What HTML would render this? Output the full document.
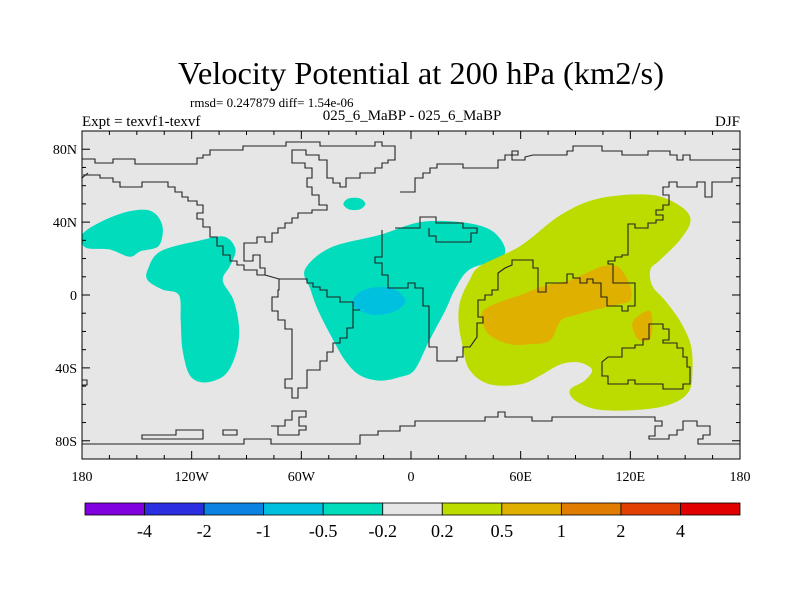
<!DOCTYPE html>
<html><head><meta charset="utf-8"><style>
body{margin:0;background:#fff;}
svg text{font-family:"Liberation Serif",serif;fill:#000;}
</style></head><body>
<svg id="chart" width="800" height="600" viewBox="0 0 800 600" xmlns="http://www.w3.org/2000/svg">
<text x="421" y="84" font-size="32" text-anchor="middle" textLength="486" lengthAdjust="spacingAndGlyphs">Velocity Potential at 200 hPa (km2/s)</text>
<text x="190" y="107" font-size="13">rmsd= 0.247879 diff= 1.54e-06</text>
<text x="82" y="126" font-size="15">Expt = texvf1-texvf</text>
<text x="412" y="120" font-size="15" text-anchor="middle">025_6_MaBP - 025_6_MaBP</text>
<text x="740" y="126" font-size="15" text-anchor="end">DJF</text>
<defs><clipPath id="clip"><rect x="82" y="131" width="658" height="328"/></clipPath></defs>
<rect x="82" y="131" width="658" height="328" fill="#e6e6e6"/>
<g id="fills" clip-path="url(#clip)"></g>
<g clip-path="url(#clip)" fill="none" stroke="#222" stroke-width="1.1">
<path d="M82,159H95V163H113V159H135V164H197V158H203V155H210V150H243V146H286V142H320V146H375V142H382V146H395V160H388V163H382V168H375V173H360V178H346V187H340V183H333V178H327V160H319V155H306V150H292V163H305V168H312V178H307V187H312V195H319V205H327V210H312V213H298V218H292V223H285V228H278V233H272V242H265V237H257V243H244V261H253V255H260V268H265V275H257V270H244V265H237V261H230V255H223V246H217V237H210V227H203V219H197V213H203V205H197V201H188V197H182V192H175V187H168V182H142V187H120V182H113V178H100V175H83"/>
<path d="M265,275L279,279H307V283H313V287H320V290H327V297H340V302H353V310H360V310H353V328H347V338H340V343H333V352H327V361H320V370H307V388H298V398H292V388H285V379H292V329H285V320H278V311H272V297H278V290H279V279"/>
<path d="M400,192H415V178H423V173H430V168H437L437,164H463V168H498V160H505V155H512V151H518V155H512V160H525V157L533,155H567V151H573V146H602V151H622V155H648V151H670V155H677V160H683V155H690V160H740"/>
<path d="M82,178L88,173"/>
<path d="M382,230V257H375V263H382V275H388V288H408V283H415V288H423V306H429V347H437V361H457V357H463V347H470L477,337V323H483V317H478V300H485V295H492V290H498V273L505,268L512,265V260H533V268H538V292H546V283H567V274H573V278H580V283H587V279H593V283H601V297H607V306H622V311H628V306H635V283H613V264H608V261H615V257H622V255H628V224H635V228H648V223H656V220H663V215H656V210H663V205H669V195H663V187H669V182H677V187H697V182H705V197H712V182H732V178H740"/>
<path d="M395,228H420V217H436V223H463V228H477V233H471V242H436V236H429V228"/>
<path d="M602,362L608,357H622V348H635V345H643V339H649V324H663V329H669V340H663V343H677V348H683V357H687V367H690V384H683V389H663V384H635V380H628V384H608V376H602Z"/>
<path d="M82,444H244V439H271V444H360V435H378V431H400V426H415V421H485V417H498V412H505V417H532V421H552V417H655V421H662V426H655V436H649V439H669V435H677V430H683V421H697V426H710V435H703V439H698V444H740"/>
<path d="M142,435V439H203V430H176V435Z"/>
<path d="M223,430H237V435H223Z"/>
<path d="M271,426H278V435H299V430H306V426H299V417H306V411H292V420H285V426Z"/>
<path d="M82,380H87V385H82"/>
</g>
<rect x="82" y="131" width="658" height="328" fill="none" stroke="#000" stroke-width="1"/>
<g id="ticks" stroke="#000" stroke-width="1"></g>
<g id="labels"></g>
<g id="colorbar"></g>
</svg>
<script>
const NS='http://www.w3.org/2000/svg';
const lonTicks=[-180,-120,-60,0,60,120,180];
const lonLabels=['180','120W','60W','0','60E','120E','180'];
const latTicks=[80,40,0,-40,-80];
const latLabels=['80N','40N','0','40S','80S'];
const levelLabels=['-4','-2','-1','-0.5','-0.2','0.2','0.5','1','2','4'];
const levelColors=['#8000e0','#2a2ee0','#0a84e0','#00c0e0','#00dcbc','#e6e6e6','#bcdc00','#e0b000','#e07c00','#e04000','#e00000'];
const blobWPac=[[-180,33],[-170,40],[-154,46],[-142,46],[-136,38],[-138,27],[-148,24],[-154,21],[-165,25],[-178,26]];
const blobEPac=[[-144,14],[-137,24],[-115,30],[-102,32],[-96,25],[-99,16],[-103,8],[-97,-3],[-94,-19],[-96,-33],[-102,-44],[-113,-48],[-121,-44],[-125,-30],[-126,-14],[-127,0],[-136,3],[-144,8]];
const blobAtl=[[-58,14],[-44,26],[-17,33],[5,40],[27,40],[43,36],[51,27],[49,20],[32,14],[24,3],[19,-8],[10,-25],[2,-41],[-6,-45],[-17,-47],[-28,-44],[-36,-36],[-44,-22],[-51,-8],[-55,3]];
const blobNAtl=[[-37,50],[-34,53],[-28,53],[-25,50],[-28,47],[-34,47]];
const blobBlue=[[-32,-3],[-25,3],[-11,4],[-3,-3],[-9,-9],[-20,-11],[-29,-8]];
const blobGreen=[[27,-3],[32,8],[38,16],[60,27],[82,44],[103,53],[131,55],[147,49],[153,41],[147,30],[136,19],[131,14],[132,5],[139,-3],[147,-14],[153,-27],[154,-41],[152,-53],[142,-60],[125,-63],[103,-63],[90,-58],[87,-52],[95,-47],[99,-41],[92,-37],[82,-38],[71,-44],[60,-49],[43,-49],[32,-41],[28,-27],[26,-14]];
const blobOrange1=[[40,-8],[51,-3],[60,0],[73,5],[87,8],[98,13],[106,16],[114,15],[120,5],[120,-3],[114,-5],[101,-8],[90,-11],[82,-14],[76,-25],[65,-27],[54,-27],[43,-22],[39,-14]];
const blobOrange2=[[125,-11],[131,-9],[132,-19],[130,-25],[124,-24],[121,-16]];
const X0=82,X1=740,Y0=131,Y1=459;
function xs(lon){return X0+(lon+180)*(X1-X0)/360;}
function ys(lat){return Y0+(90-lat)*(Y1-Y0)/180;}
function smooth(pts){
  const p=pts.map(a=>[xs(a[0]),ys(a[1])]);const n=p.length;
  let d='M'+p[0][0].toFixed(1)+','+p[0][1].toFixed(1);
  for(let i=0;i<n;i++){const a=p[(i-1+n)%n],b=p[i],c=p[(i+1)%n],e=p[(i+2)%n];
    d+='C'+(b[0]+(c[0]-a[0])/6).toFixed(1)+','+(b[1]+(c[1]-a[1])/6).toFixed(1)+' '+(c[0]-(e[0]-b[0])/6).toFixed(1)+','+(c[1]-(e[1]-b[1])/6).toFixed(1)+' '+c[0].toFixed(1)+','+c[1].toFixed(1);}
  return d+'Z';}
const fills=document.getElementById('fills');
function blob(pts,color,name){const el=document.createElementNS(NS,'path');el.setAttribute('d',smooth(pts));el.setAttribute('fill',color);


fills.appendChild(el);}
blob(blobWPac,levelColors[4],'contour-west-pacific');
blob(blobEPac,levelColors[4],'contour-east-pacific');
blob(blobAtl,levelColors[4],'contour-atlantic');
blob(blobNAtl,levelColors[4],'contour-north-atlantic');
blob(blobBlue,levelColors[3],'contour-atlantic-core');
blob(blobGreen,levelColors[6],'contour-indo-pacific');
blob(blobOrange1,levelColors[7],'contour-indian-core');
blob(blobOrange2,levelColors[7],'contour-australia-core');
const ticks=document.getElementById('ticks');
function line(x1,y1,x2,y2,nm){const l=document.createElementNS(NS,'line');l.setAttribute('x1',x1);l.setAttribute('y1',y1);l.setAttribute('x2',x2);l.setAttribute('y2',y2);


ticks.appendChild(l);}
for(let lon=-180;lon<=180;lon+=15){const x=xs(lon),L=(lon%60===0)?8:4;line(x,Y1,x,Y1-L,'x-tick');line(x,Y0,x,Y0+L,'x-tick');}
for(let lat=-90;lat<=90;lat+=10){const y=ys(lat),L=(lat%40===0)?8:4;line(X0,y,X0+L,y,'y-tick');line(X1,y,X1-L,y,'y-tick');}
const labels=document.getElementById('labels');
function txt(g,x,y,s,anchor,size,nm){const t=document.createElementNS(NS,'text');t.setAttribute('x',x);t.setAttribute('y',y);t.setAttribute('text-anchor',anchor);t.setAttribute('font-size',size);t.textContent=s;


g.appendChild(t);}
lonTicks.forEach((v,i)=>txt(labels,xs(v),481,lonLabels[i],'middle',14,'x-tick-label'));
latTicks.forEach((v,i)=>txt(labels,77,ys(v)+5,latLabels[i],'end',14,'y-tick-label'));
const cb=document.getElementById('colorbar');const CB0=85,CB1=740,n=levelColors.length,w=(CB1-CB0)/n;
levelColors.forEach((c,i)=>{const r=document.createElementNS(NS,'rect');r.setAttribute('x',CB0+i*w);r.setAttribute('y',503);r.setAttribute('width',w);r.setAttribute('height',12);r.setAttribute('fill',c);r.setAttribute('stroke','#000');r.setAttribute('stroke-width','0.8');


cb.appendChild(r);});
levelLabels.forEach((s,i)=>txt(cb,CB0+(i+1)*w,537,s,'middle',18,'colorbar-label'));
</script>
</body></html>
